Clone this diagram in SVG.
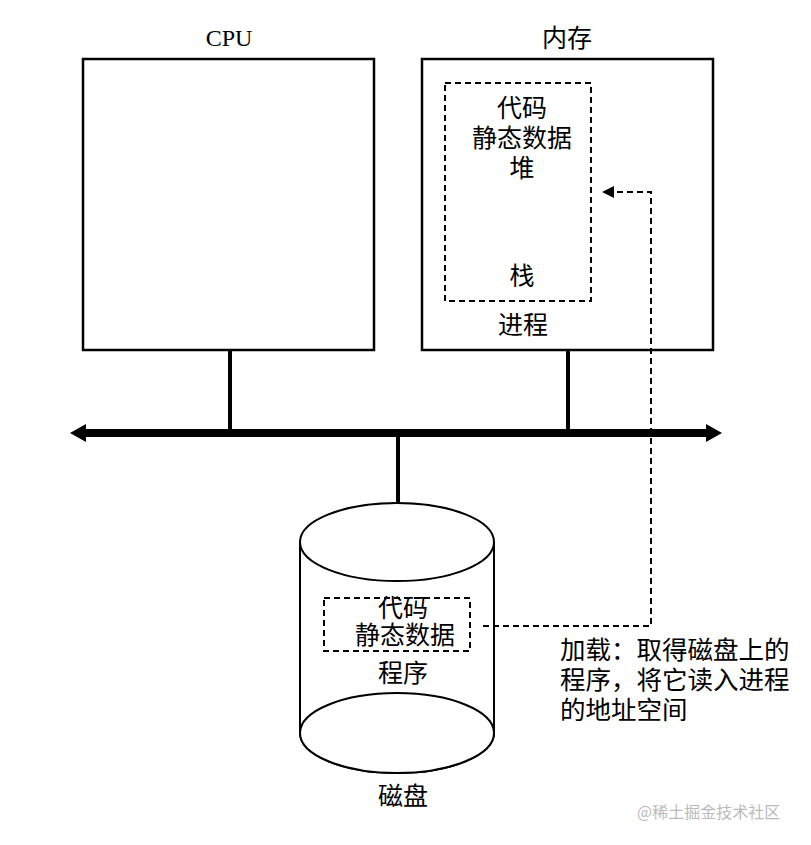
<svg xmlns="http://www.w3.org/2000/svg" width="811" height="845" viewBox="0 0 811 845">
<style>
.box{fill:#fff;stroke:#000;stroke-width:2.5}
.dash{fill:none;stroke:#000;stroke-width:2;stroke-dasharray:6 4}
.t{font-family:"Liberation Serif","Noto Sans CJK SC",serif;font-size:25px;fill:#000;text-anchor:middle}
.tl{font-family:"Liberation Serif","Noto Sans CJK SC",serif;font-size:25.5px;fill:#000}
.line{stroke:#000;stroke-width:4;fill:none}
.cyl{fill:#fff;stroke:#000;stroke-width:2}
</style>
<defs>
<marker id="ah" viewBox="0 0 12 12" refX="11" refY="6" markerWidth="12" markerHeight="12" markerUnits="userSpaceOnUse" orient="auto">
<path d="M0,0 L12,6 L0,12 Z" fill="#000"/>
</marker>
</defs>
<rect width="811" height="845" fill="#fff"/>
<g id="cpu">
<rect class="box" x="83" y="59" width="291" height="291"/>
<text class="t" x="229" y="46" style="font-size:24px">CPU</text>
</g>
<g id="memory">
<rect class="box" x="422" y="59" width="291" height="291"/>
<text class="t" x="567" y="47">内存</text>
<rect class="dash" x="445" y="83" width="146" height="218"/>
<text class="t" x="522" y="117">代码</text>
<text class="t" x="522" y="147">静态数据</text>
<text class="t" x="522" y="177">堆</text>
<text class="t" x="522" y="285">栈</text>
<text class="t" x="523" y="334">进程</text>
</g>
<g id="disk">
<path class="cyl" d="M300,542 V733 A97,40 0 0 0 494,733 V542"/>
<ellipse class="cyl" cx="397" cy="733" rx="97" ry="40"/>
<ellipse class="cyl" cx="397" cy="542" rx="97" ry="39"/>
<rect class="dash" x="324" y="598" width="146" height="53"/>
<text class="t" x="403" y="617">代码</text>
<text class="t" x="405" y="644">静态数据</text>
<text class="t" x="403" y="682">程序</text>
<text class="t" x="403" y="805">磁盘</text>
</g>
<g id="note">
<text class="tl" x="560" y="659">加载：取得磁盘上的</text>
<text class="tl" x="560" y="689">程序，将它读入进程</text>
<text class="tl" x="560" y="719">的地址空间</text>
</g>
<g id="connectors">
<line class="line" x1="230" y1="350" x2="230" y2="433"/>
<line class="line" x1="568" y1="350" x2="568" y2="433"/>
<line class="line" x1="398" y1="433" x2="398" y2="504"/>
<path d="M70,433 L86,424 L86,442 Z" fill="#000"/>
<path d="M722,433 L706,424 L706,442 Z" fill="#000"/>
<line x1="84" y1="433" x2="708" y2="433" stroke="#000" stroke-width="8"/>
<path class="dash" d="M483,626 H651 V192 H603" marker-end="url(#ah)"/>
</g>
<text x="637" y="818" font-family="'Noto Sans CJK SC',sans-serif" font-size="16" fill="#bbb">@稀土掘金技术社区</text>
</svg>
